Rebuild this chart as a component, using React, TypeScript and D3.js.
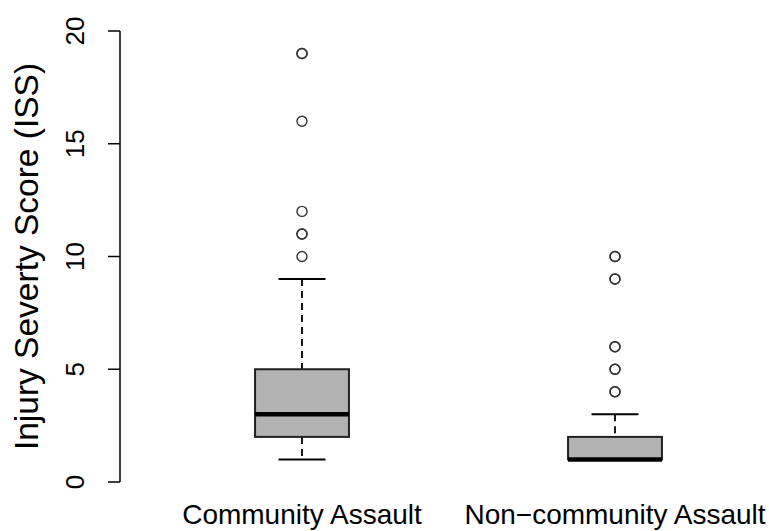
import React from "react";
import * as d3 from "d3";

const categories = ["Community Assault", "Non\u2212community Assault"];
const whiskerLow = [1, 1];
const q1 = [2, 1];
const medians = [3, 1];
const q3 = [5, 2];
const whiskerHigh = [9, 3];
const outliers = [
  [10, 11, 11, 12, 16, 19, 19],
  [4, 4, 5, 5, 6, 6, 9, 9, 10, 10],
];
const yTicks = [0, 5, 10, 15, 20];
const yTitle = "Injury Severty Score (ISS)";

const W = 769;
const H = 531;
const FONT = "Liberation Sans, Arial, sans-serif";

export default function App() {
  const x = d3.scaleLinear().domain([1, 2]).range([302, 615]);
  const y = d3.scaleLinear().domain([0, 20]).range([482, 31]);
  const boxHalf = (x(2) - x(1)) * 0.15;
  const capHalf = boxHalf / 2;
  const axisX = 120;

  return (
    <svg
      width={W}
      height={H}
      style={{ position: "absolute", left: 0, top: 0, background: "#fff" }}
    >
      {/* y axis */}
      <line x1={axisX} x2={axisX} y1={y(0)} y2={y(20)} stroke="#000" strokeWidth={1.5} />
      {yTicks.map((t) => (
        <g key={t}>
          <line x1={axisX - 12} x2={axisX} y1={y(t)} y2={y(t)} stroke="#000" strokeWidth={1.5} />
          <text
            transform={`translate(84,${y(t)}) rotate(-90)`}
            textAnchor="middle"
            fontFamily={FONT}
            fontSize={26}
            fill="#000"
          >
            {t}
          </text>
        </g>
      ))}
      <text
        transform={`translate(38,${y(10)}) rotate(-90)`}
        textAnchor="middle"
        fontFamily={FONT}
        fontSize={33.5}
        fill="#000"
      >
        {yTitle}
      </text>

      {categories.map((c, i) => {
        const cx = x(i + 1);
        return (
          <g key={c}>
            {/* whiskers */}
            <line x1={cx} x2={cx} y1={y(whiskerHigh[i])} y2={y(q3[i])} stroke="#000" strokeWidth={1.8} strokeDasharray="7,5" />
            <line x1={cx} x2={cx} y1={y(q1[i])} y2={y(whiskerLow[i])} stroke="#000" strokeWidth={1.8} strokeDasharray="7,5" />
            <line x1={cx - capHalf} x2={cx + capHalf} y1={y(whiskerHigh[i])} y2={y(whiskerHigh[i])} stroke="#000" strokeWidth={2} />
            <line x1={cx - capHalf} x2={cx + capHalf} y1={y(whiskerLow[i])} y2={y(whiskerLow[i])} stroke="#000" strokeWidth={2} />
            {/* box */}
            <rect
              x={cx - boxHalf}
              width={boxHalf * 2}
              y={y(q3[i])}
              height={y(q1[i]) - y(q3[i])}
              fill="#b3b3b3"
              stroke="#222"
              strokeWidth={2}
            />
            <line x1={cx - boxHalf} x2={cx + boxHalf} y1={y(medians[i])} y2={y(medians[i])} stroke="#000" strokeWidth={4.5} />
            {outliers[i].map((v, j) => (
              <circle key={j} cx={cx} cy={y(v)} r={5} fill="none" stroke="#333" strokeWidth={1.4} />
            ))}
            <text x={cx} y={524} textAnchor="middle" fontFamily={FONT} fontSize={28} fill="#000">
              {c}
            </text>
          </g>
        );
      })}
    </svg>
  );
}
